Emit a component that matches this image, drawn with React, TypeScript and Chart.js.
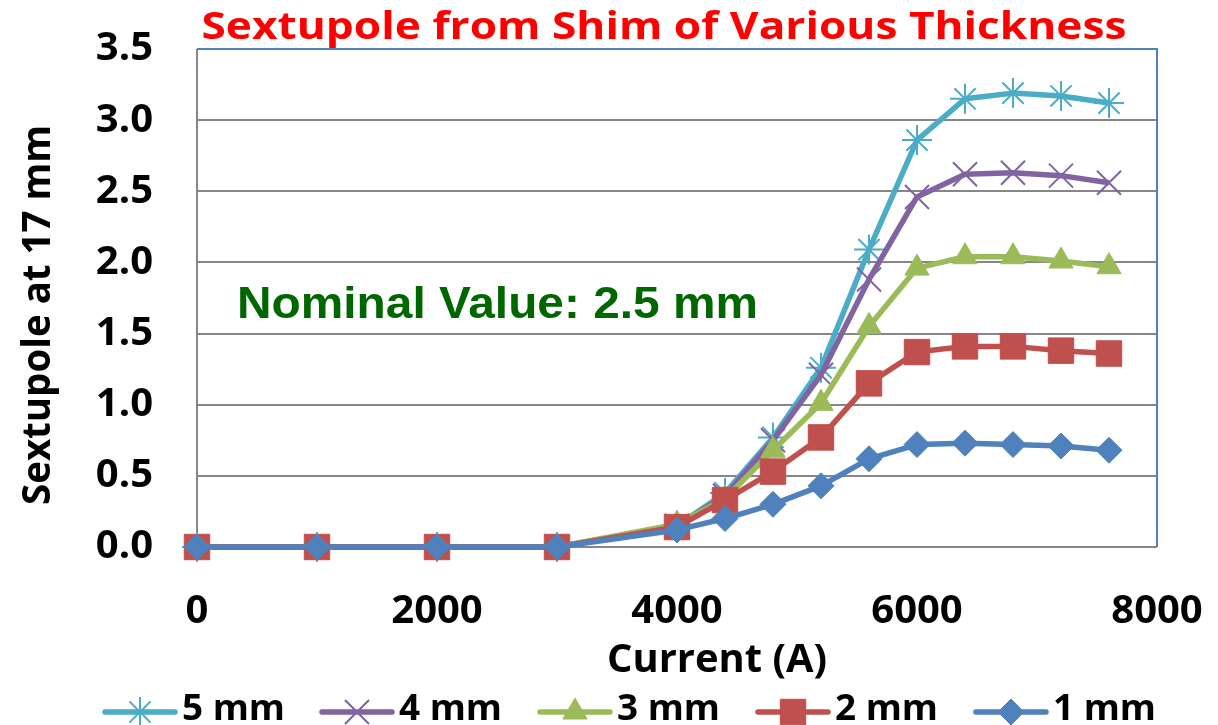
import React, { useEffect, useRef } from 'react';
import { Chart, registerables } from 'chart.js';
import { drawPoint } from 'chart.js/helpers';
Chart.register(...registerables);

// ---- data ----
const currents = [0, 1000, 2000, 3000, 4000, 4400, 4800, 5200, 5600, 6000, 6400, 6800, 7200, 7600];
const shim5 = [0, 0, 0, 0, 0.15, 0.38, 0.77, 1.26, 2.09, 2.86, 3.15, 3.19, 3.17, 3.12];
const shim4 = [0, 0, 0, 0, 0.15, 0.36, 0.75, 1.21, 1.88, 2.46, 2.62, 2.63, 2.61, 2.56];
const shim3 = [0, 0, 0, 0, 0.16, 0.34, 0.68, 1.01, 1.55, 1.96, 2.04, 2.04, 2.01, 1.97];
const shim2 = [0, 0, 0, 0, 0.14, 0.33, 0.53, 0.77, 1.15, 1.37, 1.41, 1.41, 1.38, 1.36];
const shim1 = [0, 0, 0, 0, 0.12, 0.20, 0.30, 0.43, 0.62, 0.72, 0.73, 0.72, 0.71, 0.68];
const seriesLabels = ['5 mm', '4 mm', '3 mm', '2 mm', '1 mm'];
const xTickValues = [0, 2000, 4000, 6000, 8000];
const yTickValues = [0, 0.5, 1.0, 1.5, 2.0, 2.5, 3.0, 3.5];
const titleText = 'Sextupole from Shim of Various Thickness';
const xTitleText = 'Current (A)';
const yTitleText = 'Sextupole at 17 mm';
const noteText = 'Nominal Value: 2.5 mm';

// ---- styles ----
const seriesValues = [shim5, shim4, shim3, shim2, shim1];
const seriesColors = ['#4BACC6', '#8064A2', '#9BBB59', '#C0504D', '#4F81BD'];
const seriesPoints: any[] = ['star', 'crossRot', 'triangle', 'rect', 'rectRot'];
const seriesRadius = [15, 17, 14, 18, 13];
const seriesBorder = [2, 2, 1, 1, 1];
const legendX = [105, 322, 540, 758, 976];

const FONT = '"Open Sans", sans-serif';

function drawFit(ctx: CanvasRenderingContext2D, text: string, font: string, color: string,
  x: number, y: number, align: CanvasTextAlign, targetW?: number, rotate?: number) {
  ctx.save();
  ctx.font = font;
  const w = ctx.measureText(text).width;
  const sx = targetW ? targetW / w : 1;
  ctx.translate(x, y);
  if (rotate) ctx.rotate(rotate);
  ctx.scale(sx, 1);
  ctx.textAlign = align;
  ctx.textBaseline = 'alphabetic';
  ctx.fillStyle = color;
  ctx.fillText(text, 0, 0);
  ctx.restore();
}

const zeroPad = (s: any) => {
  s.paddingTop = 0;
  s.paddingBottom = 0;
  s.paddingLeft = 0;
  s.paddingRight = 0;
};

const decorPlugin = {
  id: 'decor',
  beforeDatasetsDraw(chart: any) {
    const { ctx, chartArea: a } = chart;
    ctx.save();
    ctx.lineWidth = 2;
    ctx.strokeStyle = '#4F81BD';
    ctx.beginPath();
    ctx.moveTo(a.left, a.top);
    ctx.lineTo(a.right, a.top);
    ctx.lineTo(a.right, a.bottom);
    ctx.stroke();
    ctx.strokeStyle = '#868686';
    ctx.beginPath();
    ctx.moveTo(a.left, a.top);
    ctx.lineTo(a.left, a.bottom);
    ctx.lineTo(a.right, a.bottom);
    ctx.stroke();
    ctx.restore();
  },
  afterDraw(chart: any) {
    const { ctx } = chart;
    drawFit(ctx, titleText, `bold 38px ${FONT}`, '#FF0000', 664, 39, 'center', 925);
    drawFit(ctx, noteText, 'bold 45px "Liberation Sans", Arial, sans-serif', '#006600', 237, 318, 'left', 521);
    drawFit(ctx, xTitleText, `bold 39px ${FONT}`, '#000000', 717, 672, 'center', 220);
    drawFit(ctx, yTitleText, `bold 40px ${FONT}`, '#000000', 50, 315, 'center', 380, -Math.PI / 2);
    // legend
    const ly = 712;
    seriesLabels.forEach((lab, i) => {
      const x0 = legendX[i];
      ctx.save();
      ctx.strokeStyle = seriesColors[i];
      ctx.fillStyle = seriesColors[i];
      ctx.lineWidth = 5.5;
      ctx.lineCap = 'round';
      ctx.beginPath();
      ctx.moveTo(x0, ly);
      ctx.lineTo(x0 + 70, ly);
      ctx.stroke();
      ctx.lineCap = 'butt';
      ctx.lineWidth = seriesBorder[i];
      drawPoint(ctx, { pointStyle: seriesPoints[i], radius: seriesRadius[i], rotation: 0, borderWidth: seriesBorder[i] } as any, x0 + 35, ly);
      ctx.restore();
      drawFit(ctx, lab, `bold 35px ${FONT}`, '#000000', x0 + 77, 720, 'left', 103);
    });
  },
};

export default function App() {
  const ref = useRef<HTMLCanvasElement>(null);
  useEffect(() => {
    document.body.style.margin = '0';
    const order = [4, 3, 2, 1, 0];
    const chart = new Chart(ref.current!, {
      type: 'line',
      data: {
        datasets: order.map((i) => ({
          label: seriesLabels[i],
          data: currents.map((c, k) => ({ x: c, y: seriesValues[i][k] })),
          borderColor: seriesColors[i],
          backgroundColor: seriesColors[i],
          borderWidth: 5.5,
          borderJoinStyle: 'round',
          pointStyle: seriesPoints[i],
          pointRadius: seriesRadius[i],
          pointBorderWidth: seriesBorder[i],
          pointBackgroundColor: seriesColors[i],
          pointBorderColor: seriesColors[i],
          tension: 0,
          clip: false,
        })),
      },
      options: {
        responsive: false,
        animation: false,
        devicePixelRatio: 1,
        events: [],
        layout: { padding: { top: 49, right: 61, left: 0, bottom: 0 } },
        plugins: { legend: { display: false }, tooltip: { enabled: false }, title: { display: false } },
        scales: {
          x: {
            type: 'linear',
            min: 0,
            max: 8000,
            afterBuildTicks: (s: any) => { s.ticks = xTickValues.map((v) => ({ value: v })); },
            afterFit: (s: any) => { s.height = 178; zeroPad(s); },
            ticks: {
              color: '#000',
              font: { family: FONT, weight: 'bold', size: 40 },
              padding: 41,
              maxRotation: 0,
              callback: (v: any) => String(v),
            },
            grid: { display: false, drawTicks: false },
            border: { display: false },
          },
          y: {
            type: 'linear',
            min: 0,
            max: 3.5,
            afterBuildTicks: (s: any) => { s.ticks = yTickValues.map((v) => ({ value: v })); },
            afterFit: (s: any) => { s.width = 197; zeroPad(s); },
            ticks: {
              color: '#000',
              font: { family: FONT, weight: 'bold', size: 40 },
              padding: 44,
              callback: (v: any) => Number(v).toFixed(1),
            },
            grid: { color: '#868686', lineWidth: 2, drawTicks: false },
            border: { display: false },
          },
        },
      },
      plugins: [decorPlugin],
    } as any);
    return () => chart.destroy();
  }, []);
  return (
    <div style={{ position: 'fixed', left: 0, top: 0, width: 1218, height: 725, background: '#fff' }}>
      <canvas ref={ref} width={1218} height={725} />
    </div>
  );
}
